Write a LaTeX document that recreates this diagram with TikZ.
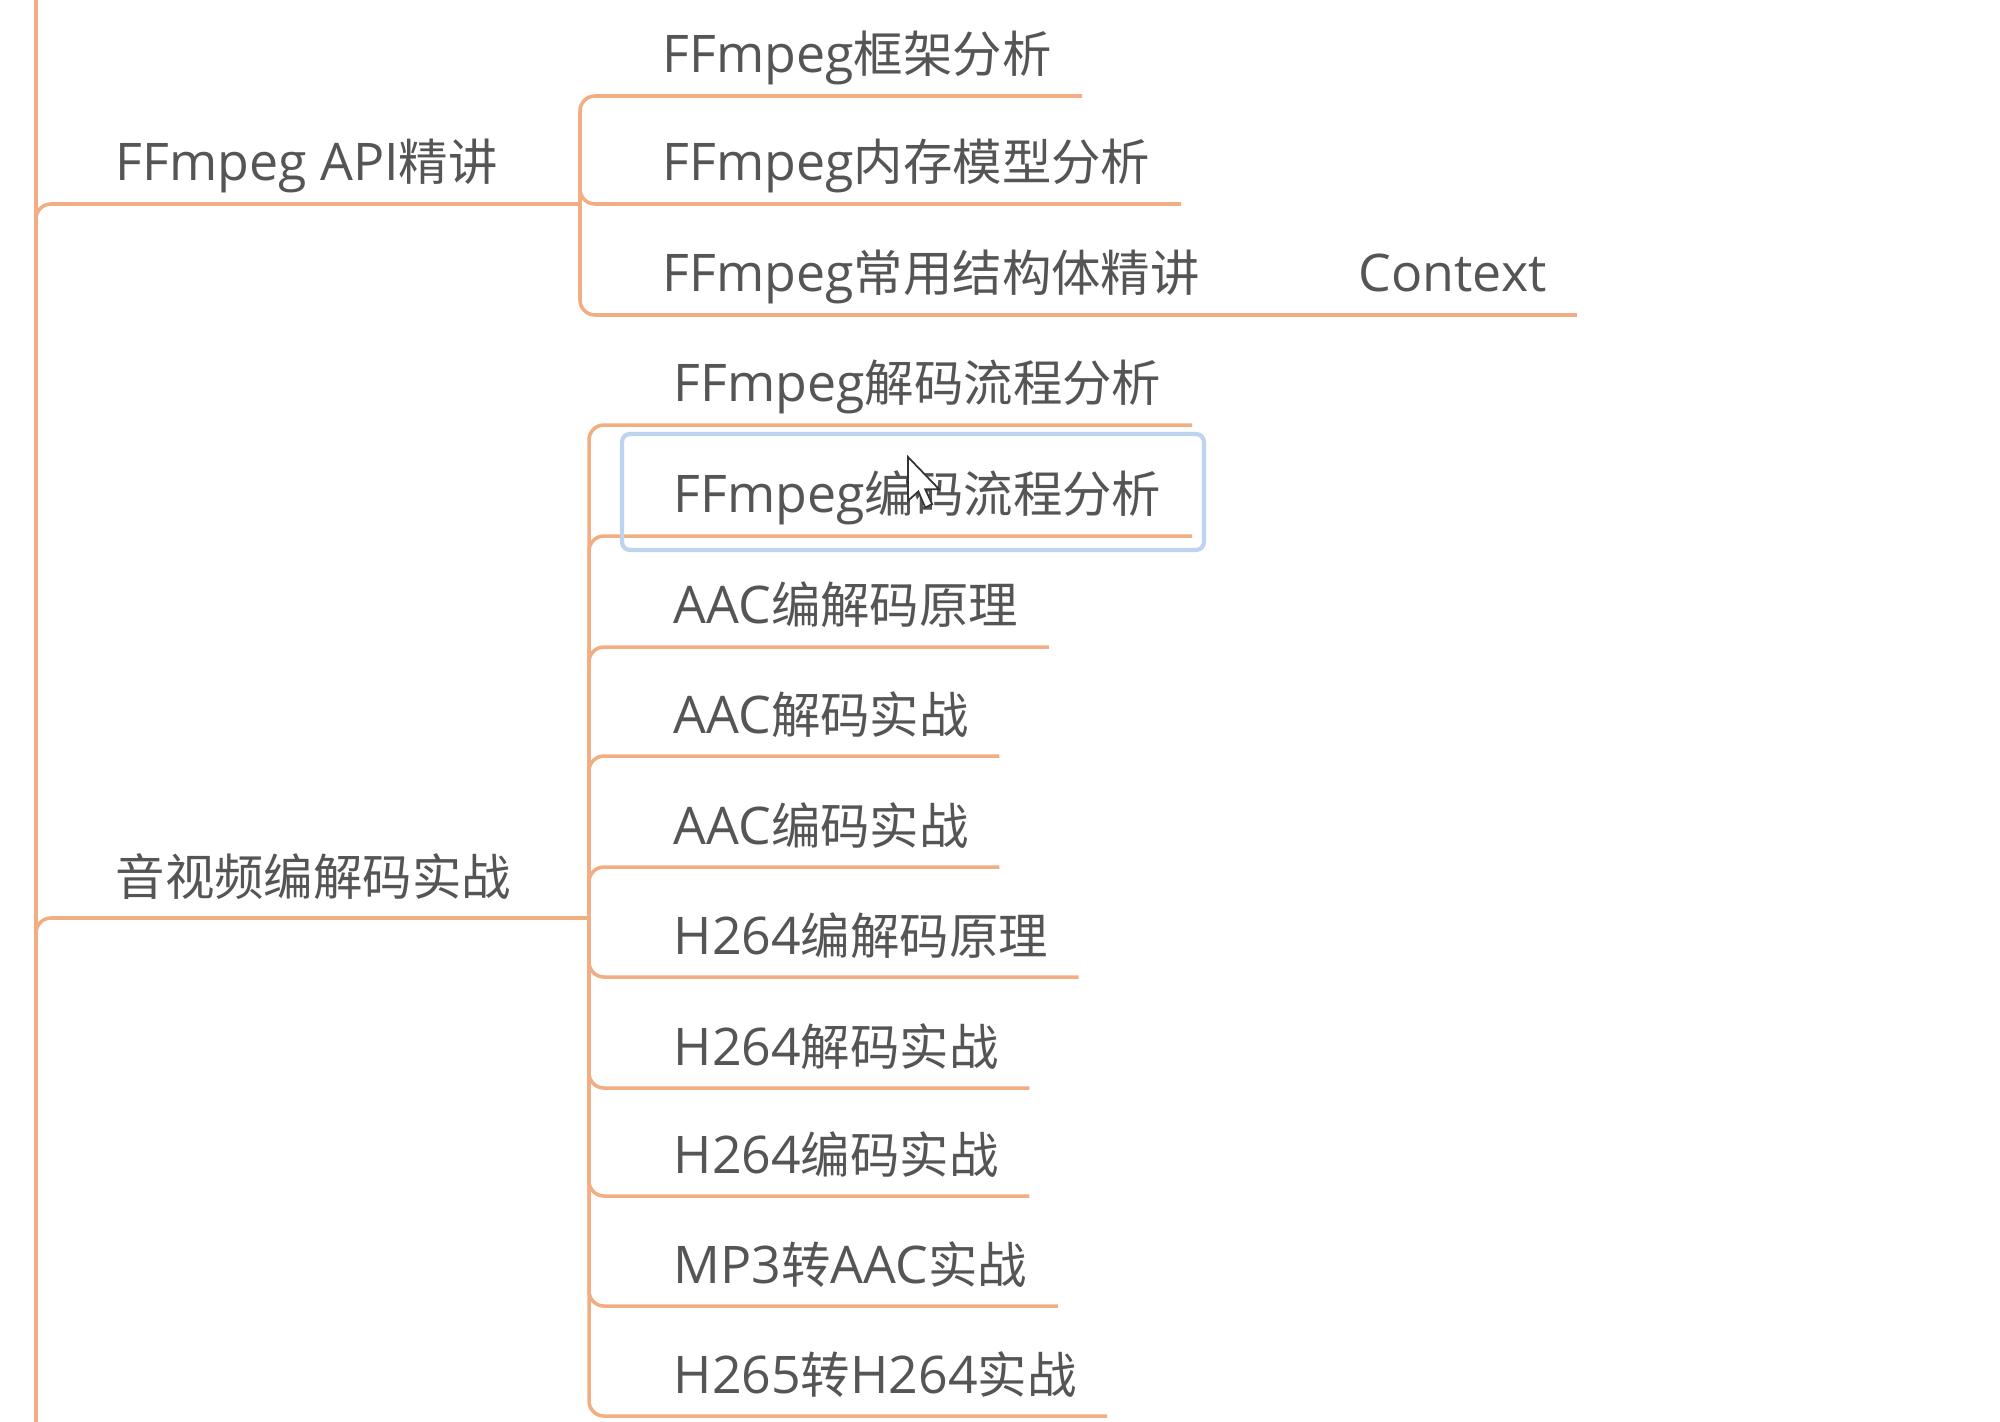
\documentclass[tikz,border=0pt]{standalone}
\usepackage{fontspec}
\setmainfont{Noto Sans CJK SC}
\newfontfamily\lat[Scale=1.05]{Open Sans}
\usetikzlibrary{calc}
\definecolor{lineor}{HTML}{F2AE82}
\definecolor{txtgray}{HTML}{555555}
\definecolor{selblue}{HTML}{BED3EE}
\tikzset{
  conn/.style={draw=lineor, line width=1pt, rounded corners=0.15cm},
  topic/.style={anchor=base west, inner sep=0pt, text=txtgray,
    font=\fontsize{14.05pt}{16pt}\selectfont},
  selbox/.style={draw=selblue, line width=1.2pt, rounded corners=0.08cm}
}
\begin{document}
\begin{tikzpicture}[x=0.01cm,y=-0.01cm]
\useasboundingbox[fill=white] (0,0) rectangle (2000,1422);
% coordinates of the trunk and junctions
\coordinate (top) at (36,-5);
\coordinate (bot) at (36,1440);
\coordinate (j1) at (580,204);
\coordinate (j2) at (589,918);
% main branches
\node[topic] (b1) at (115,181) {{\lat FFmpeg API}精讲};
\node[topic] (b2) at (115,895) {音视频编解码实战};
% children of b1
\node[topic] (c1) at (662,73) {{\lat FFmpeg}框架分析};
\node[topic] (c2) at (662,181) {{\lat FFmpeg}内存模型分析};
\node[topic] (c3) at (662,292) {{\lat FFmpeg}常用结构体精讲};
\node[topic] (ctx) at (1358,292) {\lat Context};
% children of b2
\node[topic] (d1) at (673,402) {{\lat FFmpeg}解码流程分析};
\node[topic] (d2) at (673,513) {{\lat FFmpeg}编码流程分析};
\node[topic] (d3) at (673,624) {{\lat AAC}编解码原理};
\node[topic] (d4) at (673,733) {{\lat AAC}解码实战};
\node[topic] (d5) at (673,844) {{\lat AAC}编码实战};
\node[topic] (d6) at (673,954) {{\lat H264}编解码原理};
\node[topic] (d7) at (673,1065) {{\lat H264}解码实战};
\node[topic] (d8) at (673,1173) {{\lat H264}编码实战};
\node[topic] (d9) at (673,1283) {{\lat MP3}转{\lat AAC}实战};
\node[topic] (d10) at (673,1393) {{\lat H265}转{\lat H264}实战};
% ends of the underlines
\foreach \n in {c1,c2,c3,ctx,d1,d2,d3,d4,d5,d6,d7,d8,d9,d10}{
  \coordinate (\n e) at ($(\n.base east)+(0.3cm,-0.23cm)$);
}
% trunk and branches
\draw[conn] (top) -- (bot);
\draw[conn] (bot) |- (j1);
\draw[conn] (bot) |- (j2);
\foreach \n in {c1,c2,c3}{ \draw[conn] (j1) |- (\n e); }
\draw[conn] (c3e) -- (ctxe);
\foreach \n in {d1,d2,d3,d4,d5,d6,d7,d8,d9,d10}{ \draw[conn] (j2) |- (\n e); }
% selection box
\draw[selbox] (622,434) rectangle (1204,550);
% mouse cursor
\begin{scope}[shift={(908,457)}, scale=1.15]
\draw[fill=white, draw=black!80, line width=0.5pt, line join=miter]
  (0,0) -- (0,38) -- (9,30) -- (15,44) -- (21,41) -- (15,28) -- (27,28) -- cycle;
\end{scope}
\end{tikzpicture}
\end{document}
